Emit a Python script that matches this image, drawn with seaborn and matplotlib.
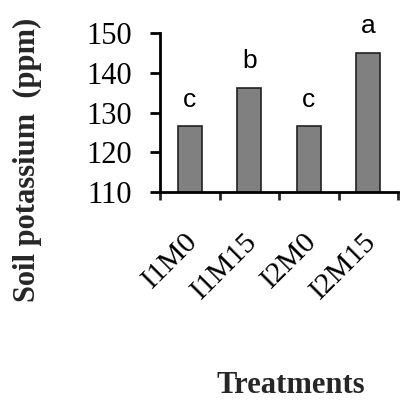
import matplotlib
matplotlib.use("Agg")
import matplotlib.pyplot as plt
import seaborn as sns
import pandas as pd

treatments = ["I1M0", "I1M15", "I2M0", "I2M15"]
potassium = [126.5, 136.2, 126.5, 145.0]
letters = ["c", "b", "c", "a"]

sns.set_theme(style="white")
plt.rcParams['font.family'] = ['Liberation Serif', 'DejaVu Serif']

df = pd.DataFrame({"Treatment": treatments, "K": potassium})

fig = plt.figure(figsize=(4, 4), dpi=100)
ax = fig.add_axes([0.40, 0.52, 0.595, 0.3975])
sns.barplot(data=df, x="Treatment", y="K", ax=ax, color="#808080",
            width=0.4, edgecolor="#222222", linewidth=1.2, saturation=1)

ax.set_ylim(110, 150)
ax.set_xlim(-0.5, 3.5)
ax.set_yticks([110, 120, 130, 140, 150])
ax.tick_params(axis='y', labelsize=22, length=7, width=2, direction='out', left=True, pad=13, colors='black')
ax.set_xticks([-0.5, 0.5, 1.5, 2.5, 3.5], minor=False)
ax.set_xticklabels([])
ax.tick_params(axis='x', length=6, width=2, direction='out', bottom=True)

for i, (t, v, l) in enumerate(zip(treatments, potassium, letters)):
    ax.text(i, v + 5.0, l, ha='center', va='baseline', fontsize=19,
            family=['Liberation Sans', 'DejaVu Sans'], color='black')
    ax.text(i + 0.06, 98.6, t, ha='right', va='center', rotation=45,
            rotation_mode='anchor', fontsize=21.5, color='black')

for s in ['top', 'right']:
    ax.spines[s].set_visible(False)
for s in ['left', 'bottom']:
    ax.spines[s].set_color('black')
    ax.spines[s].set_linewidth(2)

ax.set_xlabel("")
ax.set_ylabel("")
fig.text(0.068, 0.60, "Soil potassium  (ppm)", rotation=90, ha='center', va='center',
         fontsize=22, fontweight='bold')
fig.text(0.728, 0.036, "Treatments", ha='center', va='center', fontsize=22, fontweight='bold')

fig.savefig("out.png", dpi=100)
